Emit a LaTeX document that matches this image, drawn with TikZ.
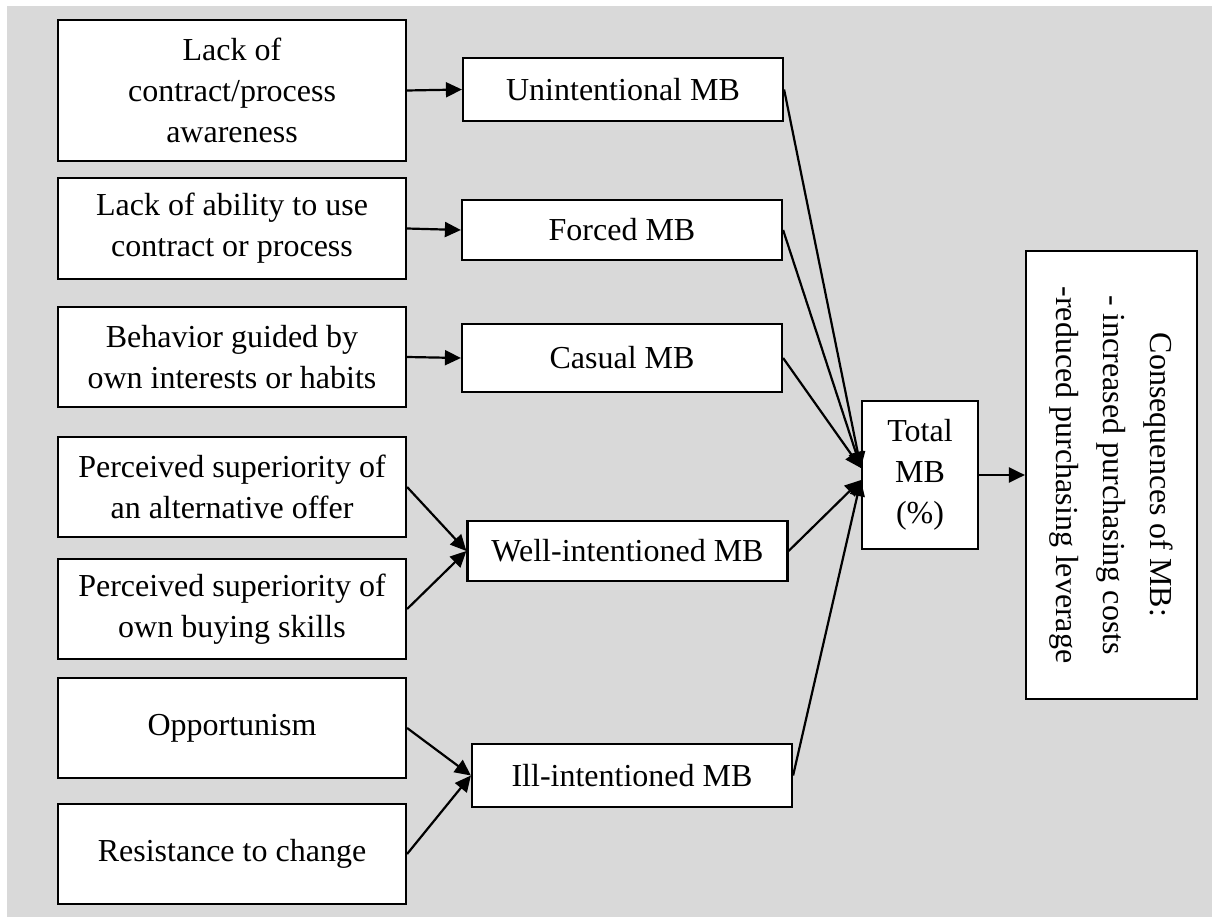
\documentclass[tikz,border=0pt]{standalone}
\usepackage{fontspec}
\setmainfont{Liberation Serif}
\usetikzlibrary{arrows.meta,calc}
\definecolor{bggray}{RGB}{217,217,217}
\begin{document}
\begin{tikzpicture}[x=1pt,y=-1pt,
  box/.style={draw=black, fill=white, line width=2.2pt, inner sep=0pt,
              align=center, font=\fontsize{32}{41}\selectfont},
  lbox/.style={box, minimum width=348pt},
  mbox/.style={box, minimum width=320pt},
  conn/.style={line width=2.2pt, -{Triangle[length=16pt,width=15pt]}}]
\useasboundingbox (0,0) rectangle (1212,917);
\fill[bggray] (7,6) rectangle (1212,917);

% causes
\node[lbox, minimum height=141pt] (b1) at (232,90.5) {Lack of\\contract/process\\awareness};
\node[lbox, minimum height=101pt] (b2) at (232,228.5) {Lack of ability to use\\contract or process};
\node[lbox, minimum height=100pt] (b3) at (232,357) {Behavior guided by\\own interests or habits};
\node[lbox, minimum height=100pt] (b4) at (232,487) {Perceived superiority of\\an alternative offer};
\node[lbox, minimum height=100pt] (b5) at (232,609) {Perceived superiority of\\own buying skills};
\node[lbox, minimum height=100pt] (b6) at (232,728) {Opportunism};
\node[lbox, minimum height=100pt] (b7) at (232,854) {Resistance to change};

% maverick buying types
\node[mbox, minimum height=63pt] (m1) at (623,89.5) {Unintentional MB};
\node[mbox, minimum height=60pt] (m2) at (622,230) {Forced MB};
\node[mbox, minimum height=68pt] (m3) at (622,358) {Casual MB};
\node[mbox, minimum height=60pt] (m4) at (627.5,551) {Well-intentioned MB};
\node[mbox, minimum height=63pt] (m5) at (632,775.5) {Ill-intentioned MB};

% total and consequences
\node[box, minimum width=116pt, minimum height=148pt] (tot) at (920,475) {Total\\MB\\(\%)};
\node[box, minimum width=448pt, minimum height=171pt, rotate=-90,
      font=\fontsize{32}{47}\selectfont] (cons) at (1111.5,475)
  {Consequences of MB:\\- increased purchasing costs\\-reduced purchasing leverage};

% connectors
\draw[conn] (b1.east) -- (m1.west);
\draw[conn] (b2.east) -- (m2.west);
\draw[conn] (b3.east) -- (m3.west);
\draw[conn] (b4.east) -- (m4.west);
\draw[conn] (b5.east) -- (m4.west);
\draw[conn] (b6.east) -- (m5.west);
\draw[conn] (b7.east) -- (m5.west);

\coordinate (tin1) at ($(tot.west)+(0,-7)$);
\coordinate (tin2) at ($(tot.west)+(0,5)$);
\draw[conn] (m1.east) -- (tin1);
\draw[conn] (m2.east) -- (tin1);
\draw[conn] (m3.east) -- (tin1);
\draw[conn] (m4.east) -- (tin2);
\draw[conn] (m5.east) -- (tin2);
\draw[conn] (tot.east) -- (tot.east -| cons.south);
\end{tikzpicture}
\end{document}
